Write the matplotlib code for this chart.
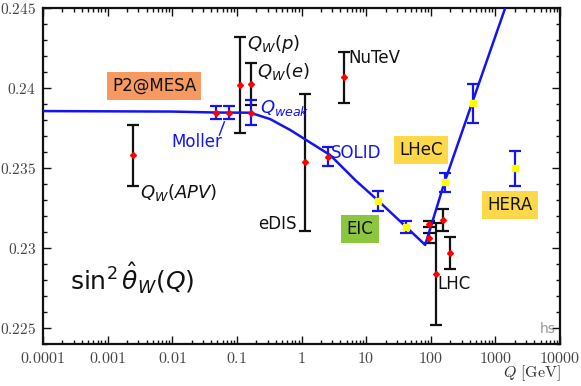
import matplotlib
matplotlib.use("Agg")
import matplotlib.pyplot as plt
from matplotlib.ticker import FixedLocator, LogLocator, NullFormatter, MultipleLocator
import numpy as np

plt.rcParams['mathtext.fontset'] = 'dejavusans'
plt.rcParams['font.family'] = ['DejaVu Sans']

# running curve
curve_q = [1e-4, 0.01, 0.048, 0.16, 0.327, 0.667, 1.14, 2.77, 6.76, 15.5, 41.2, 81.8, 163, 433, 1500]
curve_s = [0.23856, 0.23853, 0.23847, 0.23846, 0.23806, 0.23738, 0.23679, 0.23581, 0.23425,
           0.23294, 0.23133, 0.23019, 0.23411, 0.23904, 0.2453]

# existing measurements (black bars, red points)
meas_q = [0.00245, 0.112, 0.164, 1.14, 4.46, 94.4, 94.4, 121, 154, 200]
meas_s = [0.2358, 0.24017, 0.24027, 0.23536, 0.24067, 0.23150, 0.23062, 0.22836, 0.23175, 0.22967]
meas_e = [0.0019, 0.0030, 0.0013, 0.0043, 0.0016, 0.0002, 0.0003, 0.0032, 0.0007, 0.0010]

# future low-energy (blue bars, red points): Moller x2, Qweak, SOLID
low_q = [0.0477, 0.0766, 0.164, 2.61]
low_s = [0.23846, 0.23846, 0.23846, 0.2357]
low_e = [0.0004, 0.0004, 0.0008, 0.0006]

# future high-energy (blue bars, yellow squares): EIC x2, LHeC x2, HERA
high_q = [15.5, 41.1, 163, 443, 2025]
high_s = [0.23294, 0.23133, 0.23411, 0.23904, 0.23498]
high_e = [0.0006, 0.00037, 0.0006, 0.0012, 0.0011]

xticks = [1e-4, 1e-3, 1e-2, 1e-1, 1, 10, 100, 1000, 10000]
xticklabels = ['0.0001', '0.001', '0.01', '0.1', '1', '10', '100', '1000', '10000']
yticks = [0.225, 0.23, 0.235, 0.24, 0.245]
yticklabels = ['0.225', '0.23', '0.235', '0.24', '0.245']

fig = plt.figure(figsize=(5.81, 3.86), dpi=100)
ax = fig.add_axes([0.074, 0.109, 0.890, 0.870])
ax.set_xscale('log')
ax.set_xlim(1e-4, 1e4)
ax.set_ylim(0.224, 0.245)

blue = '#1414f0'
ax.errorbar(meas_q, meas_s, yerr=meas_e, fmt='none', ecolor='#111111', elinewidth=1.6,
            capsize=4, capthick=1.6, zorder=2)
ax.plot(curve_q, curve_s, color=blue, lw=1.8, zorder=3)
ax.errorbar(low_q, low_s, yerr=low_e, fmt='none', ecolor=blue, elinewidth=1.6,
            capsize=4, capthick=1.6, zorder=4)
ax.errorbar(high_q, high_s, yerr=high_e, fmt='none', ecolor=blue, elinewidth=1.6,
            capsize=4, capthick=1.6, zorder=4)
ax.plot(meas_q, meas_s, 'D', color='#ff0000', ms=3.0, mec='#ff0000', zorder=5, ls='none')
ax.plot(low_q, low_s, 'D', color='#ff0000', ms=3.0, mec='#ff0000', zorder=5, ls='none')
ax.plot(high_q, high_s, 's', color='#ffff00', ms=5, mec='#ffff00', zorder=5, ls='none')

# ticks
ax.xaxis.set_major_locator(FixedLocator(xticks))
ax.xaxis.set_minor_locator(LogLocator(base=10, subs=np.arange(2, 10), numticks=20))
ax.xaxis.set_minor_formatter(NullFormatter())
ax.yaxis.set_major_locator(FixedLocator(yticks))
ax.yaxis.set_minor_locator(MultipleLocator(0.001))
ax.set_xticklabels([f'${t}$' for t in xticklabels])
ax.set_yticklabels([f'${t}$' for t in yticklabels])
ax.tick_params(which='both', direction='in', top=True, right=True, width=1.0, color='#111111')
ax.tick_params(which='major', length=6)
ax.tick_params(which='minor', length=3)
ax.tick_params(axis='x', labelsize=11.5, labelcolor='#444444', pad=5)
ax.tick_params(axis='y', labelsize=11, labelcolor='#444444', pad=5)
for lab in ax.get_xticklabels() + ax.get_yticklabels():
    lab.set_math_fontfamily('cm')
for sp in ax.spines.values():
    sp.set_linewidth(1.6)
    sp.set_color('#111111')

xl = fig.text(0.966, 0.032, r'$Q\ \mathrm{[GeV]}$', ha='right', va='center', fontsize=11.5,
              color='#333333')
xl.set_math_fontfamily('cm')

# boxed labels
def box(x, y, txt, fc):
    ax.text(x, y, txt, ha='center', va='center', fontsize=12, color='#111111', zorder=6,
            bbox=dict(boxstyle='square,pad=0.32', fc=fc, ec='none'))

box(0.00522, 0.24013, 'P2@MESA', '#f79a62')
box(71, 0.23613, 'LHeC', '#fdd94a')
box(1694, 0.23269, 'HERA', '#fdd94a')
box(8.07, 0.23119, 'EIC', '#8cc63f')

kw = dict(fontsize=12, color='#111111', va='center', zorder=6)
mkw = dict(fontsize=13, color='#111111', va='center', zorder=6)
ax.text(0.144, 0.24275, r'$Q_W(p)$', ha='left', **mkw)
ax.text(0.2056, 0.24106, r'$Q_W(e)$', ha='left', **mkw)
ax.text(5.3, 0.24188, 'NuTeV', ha='left', **kw)
ax.text(0.00318, 0.23344, r'$Q_W(APV)$', ha='left', **mkw)
ax.text(0.85, 0.2315, 'eDIS', ha='right', **kw)
ax.text(125, 0.22775, 'LHC', ha='left', **kw)
ax.text(0.2285, 0.23875, r'$Q_{weak}$', ha='left', fontsize=13, color=blue, va='center', zorder=6)
ax.text(2.87, 0.23594, 'SOLID', ha='left', fontsize=12, color=blue, va='center', zorder=6)
ax.text(0.0242, 0.23663, 'Moller', ha='center', fontsize=12, color=blue, va='center', zorder=6)
ax.plot([0.0536, 0.064], [0.23706, 0.23789], color=blue, lw=1.0, zorder=6)
ax.text(0.052, 0.195, r'$\sin^2\hat\theta_W(Q)$', transform=ax.transAxes, fontsize=18,
        color='#111111', ha='left', va='center')
ax.text(0.992, 0.025, 'hs', transform=ax.transAxes, fontsize=10, color='#999999',
        ha='right', va='bottom')

fig.savefig('out.png', dpi=100)
